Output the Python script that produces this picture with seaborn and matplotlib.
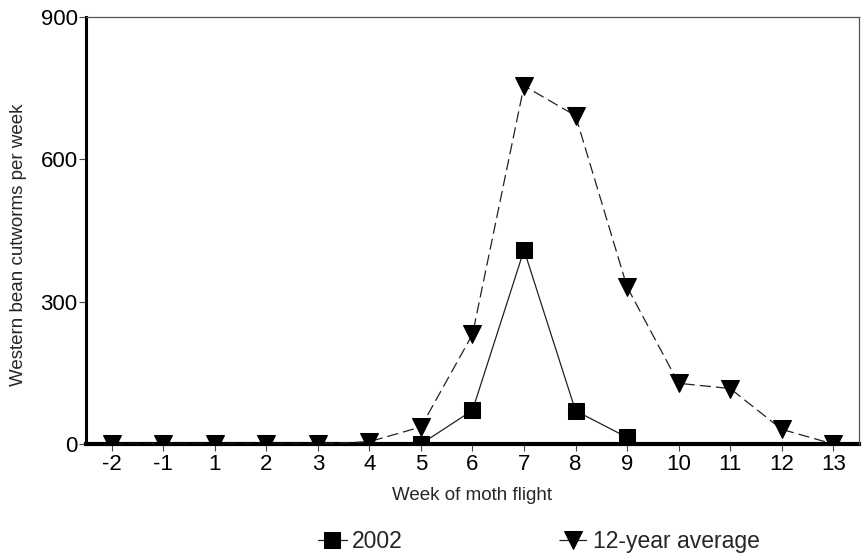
import numpy as np
import pandas as pd
import matplotlib
matplotlib.use("Agg")
import matplotlib.pyplot as plt
import seaborn as sns

weeks = ["-2", "-1", "1", "2", "3", "4", "5", "6", "7", "8", "9", "10", "11", "12", "13"]
avg_12yr = [0, 0, 0, 0, 0, 5, 36, 231, 755, 692, 331, 128, 117, 31, 0]
weeks_2002 = ["5", "6", "7", "8", "9"]
y2002 = [0, 71, 409, 70, 14]

sns.set_theme(style="white")
plt.rcParams["font.family"] = ["Liberation Sans", "DejaVu Sans"]

df_avg = pd.DataFrame({"week": weeks, "count": avg_12yr})
df_02 = pd.DataFrame({"week": weeks_2002, "count": y2002})

fig = plt.figure(figsize=(8.66, 5.60), dpi=100)
ax = fig.add_axes([0.0993, 0.2071, 0.8926, 0.7625])

# average first so the categorical axis gets every week in order
sns.lineplot(data=df_avg, x="week", y="count", sort=False, ax=ax,
             color="#222222", lw=0.9, linestyle=(0, (9, 4)),
             marker="v", markersize=13, markerfacecolor="black",
             markeredgecolor="black", label="12-year average", zorder=3)
sns.lineplot(data=df_02, x="week", y="count", sort=False, ax=ax,
             color="#222222", lw=0.9, marker="s", markersize=12,
             markerfacecolor="black", markeredgecolor="black",
             label="2002", zorder=4)

ax.set_xlim(-0.5, len(weeks) - 0.5)
ax.set_ylim(0, 900)
ax.set_yticks([0, 300, 600, 900])
ax.set_xlabel("Week of moth flight", fontsize=13.5, labelpad=9)
ax.set_ylabel("Western bean cutworms per week", fontsize=13.5)
ax.yaxis.set_label_coords(-0.076, 0.466)
ax.tick_params(axis="both", labelsize=16, colors="#444444", labelcolor="black",
               direction="out", length=5, width=0.8, left=True, bottom=True)
ax.tick_params(axis="x", pad=2)
ax.tick_params(axis="y", pad=1)

for side in ["top", "right"]:
    ax.spines[side].set_color("#555555")
    ax.spines[side].set_linewidth(0.9)
ax.spines["left"].set_color("black")
ax.spines["left"].set_linewidth(2.2)
ax.spines["bottom"].set_color("black")
ax.spines["bottom"].set_linewidth(3)
ax.spines["bottom"].set_zorder(2)

handles, labels = ax.get_legend_handles_labels()
ax.get_legend().remove()
order = [1, 0]
fig.legend([handles[i] for i in order], [labels[i] for i in order],
           loc="lower center", bbox_to_anchor=(0.622, -0.025), ncol=2,
           frameon=False, fontsize=16.5, handlelength=1.3, handletextpad=0.2,
           columnspacing=6.8)

fig.savefig("out.png", dpi=100)
